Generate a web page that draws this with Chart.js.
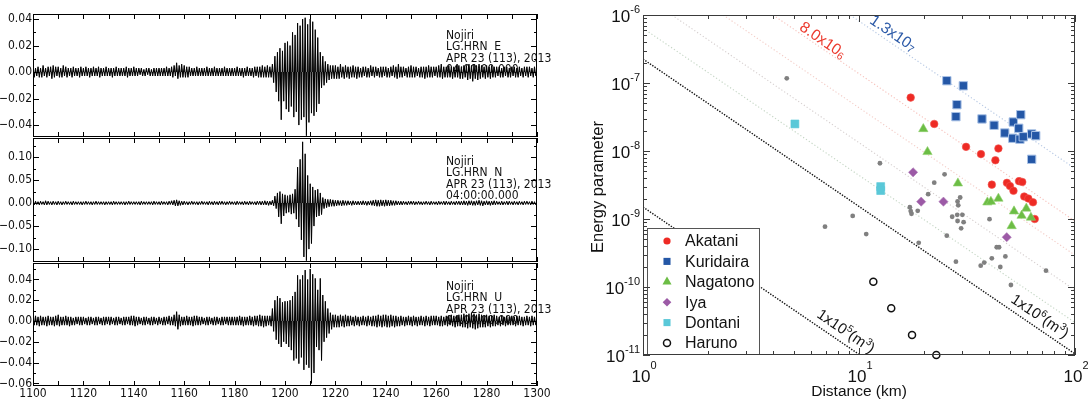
<!DOCTYPE html>
<html lang="en">
<head>
<meta charset="UTF-8">
<title>Nojiri seismograms and energy parameter</title>
<script src="https://cdn.jsdelivr.net/npm/chart.js"></script>
<style>
  body { margin: 0; background: #fff; }
  #wrap { position: relative; width: 1088px; height: 400px; }
  #wrap canvas { position: absolute; left: 0; top: 0; }
</style>
</head>
<body>
<div id="wrap">
  <canvas id="panelE" width="1088" height="400"></canvas>
  <canvas id="panelN" width="1088" height="400"></canvas>
  <canvas id="panelU" width="1088" height="400"></canvas>
  <canvas id="energyChart" width="1088" height="400"></canvas>
</div>
<script>
// ---------- seismograms: max / min amplitude in each second, 1100 s .. 1299 s ----------
const traceStart = 1100;

const eMax = [
  .004,.003,.004,.003,.005,.003,.004,.004,.005,.004,
  .004,.003,.005,.004,.003,.003,.004,.003,.003,.004,
  .003,.004,.003,.003,.004,.003,.004,.003,.003,.004,
  .003,.003,.003,.004,.003,.003,.003,.004,.003,.003,
  .004,.003,.003,.003,.002,.003,.003,.002,.003,.003,
  .003,.003,.003,.004,.003,.004,.005,.007,.005,.006,
  .005,.004,.004,.003,.003,.004,.003,.003,.003,.004,
  .003,.003,.004,.003,.003,.003,.004,.003,.003,.003,
  .003,.004,.003,.003,.003,.004,.003,.003,.004,.004,
  .004,.005,.004,.005,.004,.006,.012,.015,.018,.016,
  .022,.023,.020,.030,.028,.037,.035,.040,.041,.036,
  .040,.038,.032,.026,.015,.012,.008,.006,.005,.005,
  .005,.004,.006,.004,.005,.004,.004,.005,.004,.004,
  .003,.004,.004,.003,.005,.004,.004,.003,.004,.004,
  .004,.003,.004,.005,.004,.006,.004,.004,.003,.004,
  .005,.004,.004,.003,.004,.004,.004,.005,.004,.004,
  .004,.005,.006,.004,.004,.005,.004,.004,.005,.005,
  .004,.005,.005,.006,.005,.006,.005,.006,.005,.004,
  .005,.004,.005,.004,.004,.004,.003,.004,.004,.003,
  .004,.004,.003,.004,.003,.004,.004,.004,.003,.004
];
const eMin = [
  -.004,-.003,-.004,-.004,-.003,-.004,-.003,-.005,-.004,-.003,
  -.004,-.004,-.003,-.004,-.003,-.004,-.003,-.003,-.004,-.003,
  -.003,-.003,-.004,-.003,-.003,-.003,-.004,-.003,-.003,-.003,
  -.003,-.004,-.003,-.003,-.003,-.003,-.003,-.004,-.003,-.003,
  -.003,-.003,-.002,-.003,-.003,-.002,-.003,-.003,-.003,-.003,
  -.003,-.003,-.003,-.003,-.003,-.004,-.003,-.005,-.004,-.004,
  -.004,-.004,-.003,-.003,-.003,-.003,-.003,-.003,-.003,-.003,
  -.003,-.003,-.003,-.003,-.003,-.003,-.003,-.003,-.003,-.003,
  -.003,-.003,-.003,-.004,-.003,-.003,-.003,-.004,-.003,-.004,
  -.004,-.004,-.004,-.004,-.004,-.008,-.015,-.022,-.036,-.022,
  -.028,-.030,-.026,-.034,-.030,-.040,-.036,-.034,-.048,-.038,
  -.031,-.033,-.030,-.024,-.012,-.010,-.008,-.006,-.005,-.005,
  -.005,-.005,-.004,-.005,-.004,-.005,-.004,-.004,-.005,-.004,
  -.004,-.003,-.004,-.004,-.003,-.004,-.003,-.004,-.004,-.003,
  -.004,-.004,-.003,-.004,-.005,-.004,-.004,-.003,-.004,-.004,
  -.004,-.004,-.003,-.004,-.004,-.005,-.004,-.004,-.004,-.003,
  -.004,-.004,-.005,-.004,-.004,-.004,-.005,-.004,-.004,-.005,
  -.005,-.004,-.006,-.005,-.007,-.005,-.006,-.005,-.004,-.005,
  -.004,-.005,-.004,-.004,-.003,-.004,-.004,-.003,-.004,-.004,
  -.003,-.004,-.004,-.003,-.004,-.003,-.004,-.003,-.004,-.003
];

const nMax = [
  .004,.004,.003,.004,.003,.005,.004,.003,.004,.003,
  .004,.003,.003,.004,.003,.003,.004,.003,.003,.003,
  .003,.004,.003,.003,.003,.004,.003,.003,.003,.003,
  .003,.003,.004,.003,.003,.003,.003,.003,.004,.003,
  .003,.003,.003,.004,.003,.003,.003,.003,.004,.003,
  .003,.004,.003,.003,.004,.005,.006,.007,.005,.004,
  .004,.003,.003,.004,.003,.003,.003,.004,.003,.003,
  .004,.003,.004,.003,.004,.004,.003,.003,.004,.003,
  .003,.004,.003,.003,.004,.003,.004,.003,.003,.004,
  .004,.004,.005,.004,.004,.006,.015,.022,.025,.020,
  .018,.016,.018,.020,.030,.078,.095,.133,.107,.060,
  .042,.035,.028,.030,.022,.012,.009,.008,.008,.007,
  .006,.006,.005,.006,.005,.005,.004,.005,.004,.004,
  .004,.005,.004,.004,.005,.006,.007,.006,.007,.006,
  .007,.006,.006,.005,.005,.004,.004,.004,.003,.004,
  .004,.004,.003,.004,.003,.003,.004,.003,.004,.003,
  .003,.004,.003,.004,.004,.003,.004,.003,.004,.004,
  .004,.005,.004,.005,.005,.004,.005,.006,.005,.004,
  .005,.004,.004,.005,.004,.003,.004,.003,.004,.004,
  .003,.004,.003,.004,.003,.004,.004,.003,.004,.003
];
const nMin = [
  -.004,-.003,-.004,-.003,-.004,-.004,-.003,-.004,-.003,-.004,
  -.003,-.004,-.003,-.003,-.003,-.004,-.003,-.003,-.003,-.004,
  -.003,-.003,-.003,-.004,-.003,-.003,-.003,-.003,-.004,-.003,
  -.003,-.004,-.003,-.003,-.003,-.003,-.004,-.003,-.003,-.003,
  -.003,-.003,-.004,-.003,-.003,-.003,-.003,-.004,-.003,-.003,
  -.004,-.003,-.003,-.004,-.003,-.004,-.006,-.006,-.005,-.004,
  -.003,-.004,-.003,-.003,-.003,-.004,-.003,-.003,-.003,-.004,
  -.003,-.004,-.003,-.004,-.003,-.003,-.004,-.003,-.003,-.003,
  -.004,-.003,-.003,-.004,-.003,-.004,-.003,-.003,-.004,-.003,
  -.004,-.004,-.004,-.005,-.004,-.006,-.012,-.030,-.045,-.028,
  -.022,-.020,-.024,-.022,-.035,-.052,-.080,-.117,-.125,-.100,
  -.088,-.050,-.030,-.028,-.025,-.012,-.010,-.008,-.007,-.007,
  -.006,-.005,-.006,-.005,-.005,-.004,-.005,-.004,-.004,-.004,
  -.004,-.004,-.005,-.004,-.005,-.006,-.007,-.007,-.006,-.007,
  -.006,-.006,-.005,-.005,-.004,-.004,-.004,-.003,-.004,-.003,
  -.003,-.004,-.003,-.003,-.004,-.003,-.003,-.004,-.003,-.003,
  -.004,-.003,-.003,-.004,-.003,-.004,-.003,-.004,-.003,-.004,
  -.004,-.004,-.005,-.004,-.005,-.005,-.004,-.005,-.006,-.004,
  -.004,-.005,-.004,-.004,-.003,-.004,-.004,-.003,-.004,-.003,
  -.004,-.003,-.004,-.003,-.004,-.003,-.003,-.004,-.003,-.004
];

const uMax = [
  .004,.005,.004,.005,.004,.004,.005,.004,.004,.005,
  .006,.004,.004,.005,.004,.004,.003,.004,.004,.004,
  .004,.003,.004,.004,.003,.004,.004,.003,.004,.004,
  .004,.004,.003,.004,.004,.003,.004,.004,.004,.005,
  .005,.004,.004,.003,.004,.004,.003,.004,.004,.003,
  .004,.003,.004,.004,.005,.004,.006,.009,.006,.004,
  .004,.005,.004,.004,.005,.005,.004,.004,.003,.004,
  .004,.003,.004,.004,.003,.004,.004,.004,.004,.004,
  .004,.004,.005,.004,.004,.004,.005,.004,.005,.005,
  .006,.005,.005,.005,.005,.012,.020,.024,.022,.018,
  .019,.019,.020,.024,.028,.044,.040,.044,.049,.040,
  .050,.045,.041,.030,.041,.025,.019,.012,.008,.006,
  .006,.005,.006,.005,.006,.005,.005,.004,.005,.004,
  .004,.005,.004,.005,.004,.005,.005,.006,.005,.006,
  .006,.005,.006,.005,.005,.004,.005,.004,.004,.005,
  .004,.005,.004,.004,.005,.004,.005,.004,.005,.005,
  .005,.004,.005,.004,.005,.005,.006,.005,.005,.006,
  .006,.007,.006,.007,.008,.007,.006,.007,.006,.005,
  .006,.005,.005,.006,.005,.004,.005,.004,.005,.004,
  .005,.004,.005,.005,.004,.004,.005,.004,.005,.004
];
const uMin = [
  -.004,-.004,-.005,-.004,-.004,-.005,-.004,-.004,-.005,-.004,
  -.005,-.004,-.004,-.004,-.005,-.004,-.004,-.003,-.004,-.004,
  -.003,-.004,-.004,-.003,-.004,-.004,-.003,-.004,-.004,-.003,
  -.004,-.003,-.004,-.004,-.003,-.004,-.004,-.003,-.004,-.004,
  -.005,-.004,-.003,-.004,-.004,-.003,-.004,-.004,-.003,-.004,
  -.003,-.004,-.004,-.003,-.004,-.004,-.005,-.008,-.005,-.004,
  -.004,-.004,-.004,-.005,-.004,-.004,-.004,-.003,-.004,-.004,
  -.003,-.004,-.004,-.003,-.004,-.004,-.003,-.004,-.004,-.004,
  -.004,-.004,-.004,-.005,-.004,-.004,-.004,-.005,-.004,-.005,
  -.005,-.006,-.005,-.004,-.005,-.010,-.018,-.022,-.025,-.020,
  -.022,-.025,-.028,-.038,-.036,-.041,-.035,-.047,-.042,-.045,
  -.060,-.050,-.025,-.028,-.038,-.020,-.016,-.012,-.008,-.006,
  -.006,-.006,-.005,-.006,-.005,-.005,-.004,-.005,-.004,-.005,
  -.004,-.004,-.005,-.004,-.005,-.005,-.006,-.005,-.006,-.005,
  -.006,-.006,-.005,-.006,-.005,-.005,-.004,-.005,-.004,-.004,
  -.005,-.004,-.005,-.004,-.004,-.005,-.004,-.005,-.004,-.004,
  -.004,-.005,-.005,-.004,-.005,-.004,-.005,-.006,-.005,-.005,
  -.006,-.006,-.007,-.006,-.007,-.008,-.007,-.006,-.006,-.006,
  -.005,-.006,-.005,-.005,-.004,-.005,-.004,-.005,-.004,-.004,
  -.004,-.005,-.004,-.004,-.005,-.004,-.004,-.005,-.004,-.004
];

const timeTicks = [1100, 1120, 1140, 1160, 1180, 1200, 1220, 1240, 1260, 1280, 1300];
const timeMinor = [1110, 1130, 1150, 1170, 1190, 1210, 1230, 1250, 1270, 1290];
const eTicks = [-0.04, -0.02, 0, 0.02, 0.04];
const eMinor = [-0.03, -0.01, 0.01, 0.03];
const nTicks = [-0.10, -0.05, 0, 0.05, 0.10];
const nMinor = [-0.125, -0.075, -0.025, 0.025, 0.075, 0.125];
const uTicks = [-0.06, -0.04, -0.02, 0, 0.02, 0.04];
const uMinor = [-0.05, -0.03, -0.01, 0.01, 0.03, 0.05];

const eInfo = ['Nojiri', 'LG.HRN  E', 'APR 23 (113), 2013', '04:00:00.000'];
const nInfo = ['Nojiri', 'LG.HRN  N', 'APR 23 (113), 2013', '04:00:00.000'];
const uInfo = ['Nojiri', 'LG.HRN  U', 'APR 23 (113), 2013', '04:00:00.000'];

// ---------- energy parameter vs distance ----------
const akataniX = [17.35, 22.3, 31.3, 36.7, 44.2, 42.8, 41.2, 48.4, 50.0, 51.9, 55.1, 57.0, 58.2, 60.8, 63.9, 65.1];
const akataniY = [6.1e-8, 2.5e-8, 1.15e-8, 9.0e-9, 1.09e-8, 7.3e-9, 3.2e-9, 3.4e-9, 3.05e-9, 2.6e-9, 3.6e-9, 3.5e-9, 2.14e-9, 2.0e-9, 1.76e-9, 1.0e-9];
const kuridairaX = [25.5, 30.4, 28.4, 28.1, 37.1, 42.2, 47.3, 51.8, 56.1, 54.9, 51.5, 55.6, 57.6, 63.0, 65.8, 63.0];
const kuridairaY = [1.08e-7, 9.1e-8, 4.8e-8, 3.2e-8, 2.96e-8, 2.39e-8, 1.84e-8, 2.67e-8, 3.42e-8, 2.16e-8, 1.54e-8, 1.49e-8, 1.62e-8, 1.78e-8, 1.68e-8, 7.55e-9];
const nagatonoX = [19.85, 20.75, 28.7, 39.3, 40.8, 44.2, 52.2, 59.5, 56.6, 62.5, 50.9];
const nagatonoY = [2.11e-8, 9.7e-9, 3.35e-9, 1.76e-9, 1.8e-9, 2.0e-9, 1.3e-9, 1.43e-9, 1.12e-9, 1.05e-9, 7.9e-10];
const iyaX = [17.8, 19.4, 24.6, 48.3];
const iyaY = [4.86e-9, 1.8e-9, 1.8e-9, 5.4e-10];
const dontaniX = [5.05, 12.6, 12.6];
const dontaniY = [2.5e-8, 3.0e-9, 2.62e-9];
const harunoX = [11.65, 14.1, 17.6, 22.8];
const harunoY = [1.19e-10, 4.86e-11, 1.97e-11, 1.0e-11];
const otherX = [4.63, 12.5, 24.9, 22.3, 20.9, 17.2, 17.35, 17.5, 18.7, 29.4, 28.6, 28.8, 27.0, 28.5, 30.1, 28.6, 30.5,
  29.7, 40.2, 10.8, 25.5, 18.9, 43.4, 44.5, 47.6, 41.2, 38.0, 36.6, 45.1, 28.1, 73.4, 9.35, 6.96, 50.5];
const otherY = [1.17e-7, 6.6e-9, 4.54e-9, 3.42e-9, 2.32e-9, 1.49e-9, 1.31e-9, 1.19e-9, 1.32e-9, 2.07e-9, 1.81e-9, 1.59e-9,
  1.08e-9, 1.15e-9, 1.15e-9, 9.35e-10, 8.97e-10, 7.3e-10, 9.93e-10, 6.0e-10, 5.68e-10, 4.47e-10, 3.84e-10, 3.84e-10,
  2.82e-10, 2.64e-10, 2.29e-10, 2.06e-10, 1.97e-10, 2.36e-10, 1.74e-10, 1.11e-9, 7.7e-10, 1.07e-10];

// constant-volume reference lines (end points)
const volLineX = [[1, 10.1], [1, 100], [1, 100], [1.36, 100], [2.35, 100], [4.0, 100], [9.1, 100]];
const volLineY = [[1.5e-9, 1e-11], [2.25e-7, 1.04e-11], [6.4e-7, 3.0e-11], [1e-6, 9.0e-11], [1e-6, 2.94e-10], [1e-6, 9.3e-10], [1e-6, 5.52e-9]];
const volLineColor = ['#111', '#111', 'rgba(170,195,170,0.7)', 'rgba(195,185,185,0.7)', 'rgba(235,170,160,0.6)', 'rgba(240,150,140,0.6)', 'rgba(150,175,215,0.7)'];

// notes along the lines: position (data units)
const noteX = [6.81, 14.4, 8.71, 68.9];
const noteY = [4.29e-7, 5.43e-7, 2.25e-11, 3.75e-11];

const distTicks = [1, 10, 100];
const distExp = ['0', '1', '2'];
const distMinor = [2, 3, 4, 5, 6, 7, 8, 9, 20, 30, 40, 50, 60, 70, 80, 90];
const energyTicks = [1e-6, 1e-7, 1e-8, 1e-9, 1e-10, 1e-11];
const energyExp = ['-6', '-7', '-8', '-9', '-10', '-11'];

const narrow = '"Liberation Sans Narrow", "DejaVu Sans Condensed", sans-serif';
const sans = '"Liberation Sans", Arial, sans-serif';

// ---------- seismogram panels ----------
function tracePoints(maxs, mins) {
  const pts = [];
  maxs.forEach((hi, i) => {
    pts.push({ x: traceStart + i, y: hi });
    pts.push({ x: traceStart + i + 0.5, y: mins[i] });
  });
  return pts;
}

function fmtAmp(v) {
  const s = Math.abs(v).toFixed(2);
  return v < 0 ? '\u2212' + s : s;
}

function panelDecor(p) {
  return {
    id: 'panelDecor',
    beforeDatasetsDraw(chart) {
      const ctx = chart.ctx;
      ctx.save();
      ctx.font = '12px ' + narrow;
      ctx.fillStyle = '#111';
      ctx.textBaseline = 'middle';
      p.info.forEach((line, i) => ctx.fillText(line, 446, p.infoY + i * 11.3));
      ctx.restore();
    },
    afterDraw(chart) {
      const { ctx, chartArea: a, scales: { x, y } } = chart;
      ctx.save();
      ctx.strokeStyle = '#000';
      ctx.lineWidth = 1;
      ctx.strokeRect(a.left + 0.5, a.top + 0.5, a.right - a.left - 1, a.bottom - a.top - 1);
      ctx.beginPath();
      const yTick = (v, len) => {
        const py = Math.round(y.getPixelForValue(v)) + 0.5;
        ctx.moveTo(a.left, py); ctx.lineTo(a.left + len, py);
        ctx.moveTo(a.right, py); ctx.lineTo(a.right - len, py);
      };
      const xTick = (v, len) => {
        const px = Math.round(x.getPixelForValue(v)) + 0.5;
        ctx.moveTo(px, a.top); ctx.lineTo(px, a.top + len);
        ctx.moveTo(px, a.bottom); ctx.lineTo(px, a.bottom - len);
      };
      p.ticks.forEach(v => yTick(v, 6));
      p.minor.forEach(v => yTick(v, 3));
      timeTicks.forEach(v => xTick(v, 5));
      timeMinor.forEach(v => xTick(v, 5));
      ctx.stroke();

      ctx.fillStyle = '#111';
      ctx.font = '12px ' + narrow;
      ctx.textAlign = 'right';
      ctx.textBaseline = 'middle';
      p.ticks.forEach(v => ctx.fillText(fmtAmp(v), a.left - 1, y.getPixelForValue(v)));
      if (p.timeLabels) {
        ctx.textAlign = 'center';
        ctx.textBaseline = 'top';
        timeTicks.forEach(v => ctx.fillText(String(v), x.getPixelForValue(v), a.bottom + 2));
      }
      ctx.restore();
    }
  };
}

const panels = [
  { id: 'panelE', max: eMax, min: eMin, yMin: -0.049, yMax: 0.0438, top: 14, bottom: 137, ticks: eTicks, minor: eMinor, info: eInfo, infoY: 36, timeLabels: false },
  { id: 'panelN', max: nMax, min: nMin, yMin: -0.128, yMax: 0.1413, top: 138, bottom: 262, ticks: nTicks, minor: nMinor, info: nInfo, infoY: 162, timeLabels: false },
  { id: 'panelU', max: uMax, min: uMin, yMin: -0.0625, yMax: 0.0558, top: 263, bottom: 386, ticks: uTicks, minor: uMinor, info: uInfo, infoY: 287, timeLabels: true }
];

panels.forEach(p => {
  new Chart(document.getElementById(p.id), {
    type: 'line',
    data: {
      datasets: [{
        data: tracePoints(p.max, p.min),
        borderColor: '#000',
        borderWidth: 1,
        backgroundColor: 'rgba(0,0,0,0.9)',
        fill: 'origin',
        pointRadius: 0,
        tension: 0
      }]
    },
    options: {
      responsive: false,
      animation: false,
      events: [],
      layout: { padding: { left: 33, right: 551, top: p.top, bottom: 400 - p.bottom } },
      scales: {
        x: { type: 'linear', min: 1100, max: 1300, display: false },
        y: { type: 'linear', min: p.yMin, max: p.yMax, display: false }
      },
      plugins: { legend: { display: false }, tooltip: { enabled: false } }
    },
    plugins: [panelDecor(p)]
  });
});

// ---------- energy chart ----------
function pairs(xs, ys) {
  return xs.map((v, i) => ({ x: v, y: ys[i] }));
}

function drawMarker(ctx, style, x, y, r, fill, stroke, lw) {
  ctx.beginPath();
  if (style === 'circle') {
    ctx.arc(x, y, r, 0, Math.PI * 2);
  } else if (style === 'rect') {
    const s = r * Math.SQRT1_2;
    ctx.rect(x - s, y - s, 2 * s, 2 * s);
  } else if (style === 'triangle') {
    ctx.moveTo(x, y - r);
    ctx.lineTo(x + r * 0.866, y + r / 2);
    ctx.lineTo(x - r * 0.866, y + r / 2);
    ctx.closePath();
  } else if (style === 'rectRot') {
    ctx.moveTo(x - r, y); ctx.lineTo(x, y - r); ctx.lineTo(x + r, y); ctx.lineTo(x, y + r);
    ctx.closePath();
  }
  if (fill) { ctx.fillStyle = fill; ctx.fill(); }
  if (stroke) { ctx.strokeStyle = stroke; ctx.lineWidth = lw; ctx.stroke(); }
}

// text made of parts: [text, size, shift]
function drawParts(ctx, parts, x, y, align, color) {
  let total = 0;
  const widths = parts.map(pt => {
    ctx.font = pt[1] + 'px ' + sans;
    const w = ctx.measureText(pt[0]).width;
    total += w;
    return w;
  });
  let cx = align === 'right' ? x - total : align === 'center' ? x - total / 2 : x;
  ctx.fillStyle = color;
  ctx.textAlign = 'left';
  ctx.textBaseline = 'alphabetic';
  parts.forEach((pt, i) => {
    ctx.font = pt[1] + 'px ' + sans;
    ctx.fillText(pt[0], cx, y + pt[2]);
    cx += widths[i];
  });
}

const notes = [
  { parts: [['8.0x10', 15.5, 0], ['6', 10.5, 2]], color: '#ec3a2e' },
  { parts: [['1.3x10', 15.5, 0], ['7', 10.5, 2]], color: '#2c5aa8' },
  { parts: [['1x10', 15, 0], ['5', 10, -6], ['(m', 15, 0], ['3', 10, -6], [')', 15, 0]], color: '#111' },
  { parts: [['1x10', 15, 0], ['6', 10, -6], ['(m', 15, 0], ['3', 10, -6], [')', 15, 0]], color: '#111' }
];

const legendMarks = [
  { style: 'circle', r: 3.6, fill: '#ee2a24' },
  { style: 'rect', r: 5, fill: '#2457a6' },
  { style: 'triangle', r: 5.2, fill: '#6cbd45' },
  { style: 'rectRot', r: 4.3, fill: '#9c5aa6' },
  { style: 'rect', r: 5, fill: '#5ac8d8' },
  { style: 'circle', r: 3.5, fill: null, stroke: '#111' }
];

const energyDecor = {
  id: 'energyDecor',
  afterDatasetsDraw(chart) {
    const { ctx, chartArea: a, scales: { x, y } } = chart;
    // slope of the reference lines in pixels
    const x0 = x.getPixelForValue(volLineX[1][0]), y0 = y.getPixelForValue(volLineY[1][0]);
    const x1 = x.getPixelForValue(volLineX[1][1]), y1 = y.getPixelForValue(volLineY[1][1]);
    const angle = Math.atan2(y1 - y0, x1 - x0);
    notes.forEach((n, i) => {
      ctx.save();
      ctx.translate(x.getPixelForValue(noteX[i]), y.getPixelForValue(noteY[i]));
      ctx.rotate(angle);
      drawParts(ctx, n.parts, 0, 5, 'center', n.color);
      ctx.restore();
    });

    // legend box
    const lx = a.left + 4, ly = a.top + 213, lw = 112, lh = a.bottom - ly;
    ctx.save();
    ctx.fillStyle = '#fff';
    ctx.fillRect(lx, ly, lw, lh);
    ctx.strokeStyle = '#555';
    ctx.lineWidth = 1;
    ctx.strokeRect(lx + 0.5, ly + 0.5, lw, lh - 1);
    ctx.font = '16px ' + sans;
    ctx.textBaseline = 'middle';
    legendMarks.forEach((m, i) => {
      const ry = ly + 13 + i * 20.4;
      drawMarker(ctx, m.style, lx + 20, ry, m.r, m.fill, m.stroke, 1.5);
      ctx.fillStyle = '#111';
      ctx.fillText(chart.data.datasets[i].label, lx + 38, ry + 1);
    });
    ctx.restore();
  },
  afterDraw(chart) {
    const { ctx, chartArea: a, scales: { x, y } } = chart;
    ctx.save();
    ctx.strokeStyle = '#3a3a3a';
    ctx.lineWidth = 1;
    ctx.strokeRect(a.left + 0.5, a.top + 0.5, a.right - a.left - 1, a.bottom - a.top - 1);
    ctx.beginPath();
    const xTick = (v, len) => {
      const px = Math.round(x.getPixelForValue(v)) + 0.5;
      ctx.moveTo(px, a.bottom); ctx.lineTo(px, a.bottom - len);
      ctx.moveTo(px, a.top); ctx.lineTo(px, a.top + len);
    };
    const yTick = (v, len) => {
      const py = Math.round(y.getPixelForValue(v)) + 0.5;
      ctx.moveTo(a.left, py); ctx.lineTo(a.left + len, py);
      ctx.moveTo(a.right, py); ctx.lineTo(a.right - len, py);
    };
    distTicks.forEach(v => xTick(v, 7));
    distMinor.forEach(v => xTick(v, 4));
    energyTicks.forEach((v, i) => {
      yTick(v, 7);
      if (i < energyTicks.length - 1) {
        [2, 3, 4, 5, 6, 7, 8, 9].forEach(k => yTick(k * energyTicks[i + 1], 4));
      }
    });
    ctx.stroke();

    energyTicks.forEach((v, i) => {
      drawParts(ctx, [['10', 17, 0], [energyExp[i], 11, -9.5]], a.left - 3, y.getPixelForValue(v) + 7, 'right', '#111');
    });
    distTicks.forEach((v, i) => {
      drawParts(ctx, [['10', 17, 0], [distExp[i], 11, -13]], x.getPixelForValue(v) + 1, 382, 'center', '#111');
    });

    ctx.fillStyle = '#111';
    ctx.font = '15.5px ' + sans;
    ctx.textAlign = 'center';
    ctx.textBaseline = 'alphabetic';
    ctx.fillText('Distance (km)', (a.left + a.right) / 2, 396);
    ctx.translate(603, 187);
    ctx.rotate(-Math.PI / 2);
    ctx.font = '16.5px ' + sans;
    ctx.fillText('Energy parameter', 0, 0);
    ctx.restore();
  }
};

const lineSets = volLineX.map((xs, i) => ({
  label: 'line' + i,
  data: pairs(xs, volLineY[i]),
  showLine: true,
  borderColor: volLineColor[i],
  borderWidth: i < 2 ? 1.4 : 1.1,
  borderDash: i < 2 ? [1.4, 1.4] : [1.2, 2.2],
  pointRadius: 0,
  order: 10
}));

new Chart(document.getElementById('energyChart'), {
  type: 'scatter',
  data: {
    datasets: [
      { label: 'Akatani', data: pairs(akataniX, akataniY), pointStyle: 'circle', pointRadius: 3.8,
        backgroundColor: '#ee2a24', borderColor: '#f25550', borderWidth: 0.6, order: 2, clip: false },
      { label: 'Kuridaira', data: pairs(kuridairaX, kuridairaY), pointStyle: 'rect', pointRadius: 5.9,
        backgroundColor: '#2457a6', borderColor: '#a9c2e6', borderWidth: 1, order: 3, clip: false },
      { label: 'Nagatono', data: pairs(nagatonoX, nagatonoY), pointStyle: 'triangle', pointRadius: 5.4,
        backgroundColor: '#6cbd45', borderColor: '#8fd06c', borderWidth: 0.6, order: 1, clip: false },
      { label: 'Iya', data: pairs(iyaX, iyaY), pointStyle: 'rectRot', pointRadius: 4.6,
        backgroundColor: '#9c5aa6', borderColor: '#b07cb8', borderWidth: 0.6, order: 4, clip: false },
      { label: 'Dontani', data: pairs(dontaniX, dontaniY), pointStyle: 'rect', pointRadius: 5.6,
        backgroundColor: '#5ac8d8', borderColor: '#5ac8d8', borderWidth: 0.6, order: 5, clip: false },
      { label: 'Haruno', data: pairs(harunoX, harunoY), pointStyle: 'circle', pointRadius: 3.5,
        backgroundColor: 'rgba(255,255,255,0)', borderColor: '#111', borderWidth: 1.5, order: 6, clip: false },
      { label: 'Others', data: pairs(otherX, otherY), pointStyle: 'circle', pointRadius: 2.4,
        backgroundColor: '#808080', borderColor: '#808080', borderWidth: 0, order: 8, clip: false },
      ...lineSets
    ]
  },
  options: {
    responsive: false,
    animation: false,
    events: [],
    layout: { padding: { left: 643, right: 13, top: 15, bottom: 45 } },
    scales: {
      x: { type: 'logarithmic', min: 1, max: 100, display: false },
      y: { type: 'logarithmic', min: 1e-11, max: 1e-6, display: false }
    },
    plugins: { legend: { display: false }, tooltip: { enabled: false } }
  },
  plugins: [energyDecor]
});
</script>
</body>
</html>
